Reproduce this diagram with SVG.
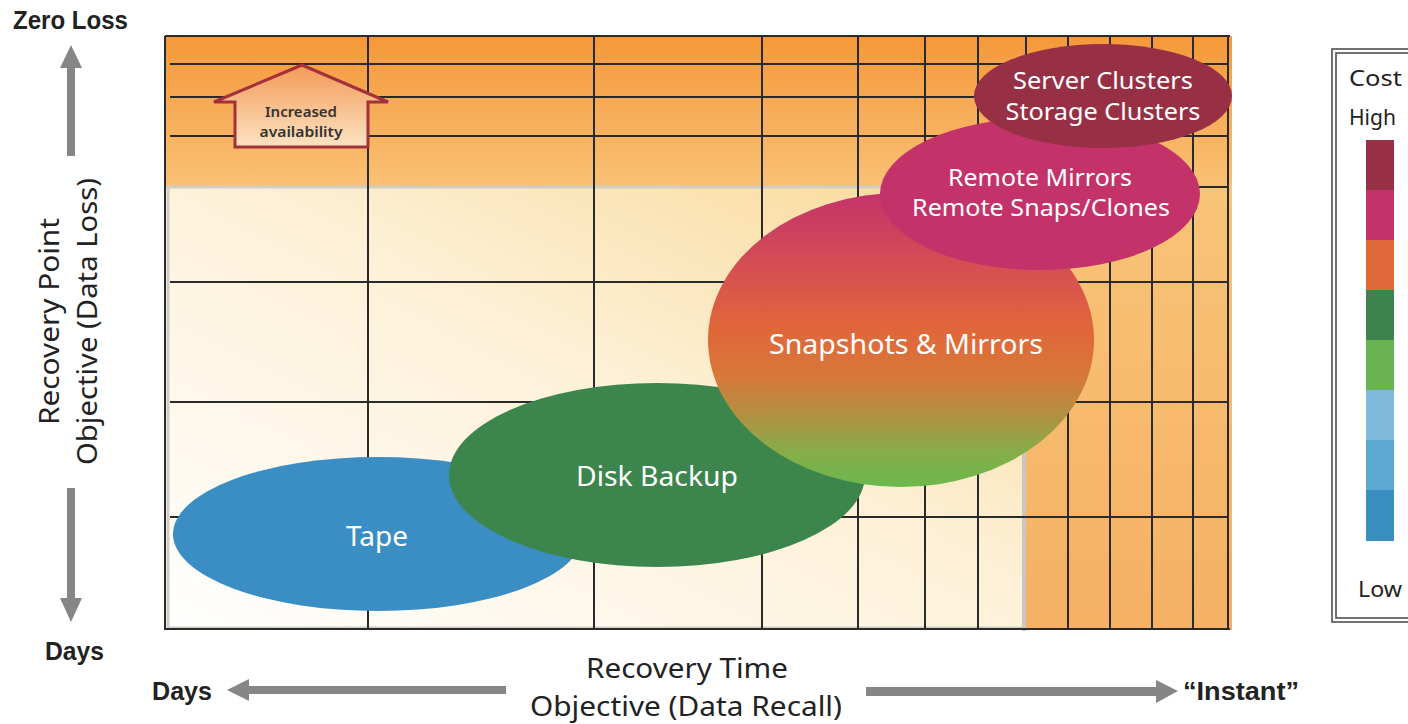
<svg xmlns="http://www.w3.org/2000/svg" width="1408" height="724" viewBox="0 0 1408 724">
<defs>
<linearGradient id="gTop" x1="0" y1="0" x2="0" y2="1">
<stop offset="0" stop-color="#F5983A"/>
<stop offset="1" stop-color="#F9C175"/>
</linearGradient>
<linearGradient id="gRight" x1="0" y1="0" x2="0" y2="1">
<stop offset="0" stop-color="#F8C478"/>
<stop offset="1" stop-color="#F5B064"/>
</linearGradient>
<linearGradient id="gCream" x1="0" y1="1" x2="1" y2="0">
<stop offset="0" stop-color="#FFFFFF"/>
<stop offset="0.55" stop-color="#FDF0D6"/>
<stop offset="1" stop-color="#F9D894"/>
</linearGradient>
<linearGradient id="gSnap" x1="0" y1="0" x2="0" y2="1">
<stop offset="0" stop-color="#C3346A"/>
<stop offset="0.3" stop-color="#D8544E"/>
<stop offset="0.45" stop-color="#E0653A"/>
<stop offset="0.62" stop-color="#D9773A"/>
<stop offset="0.75" stop-color="#B38F42"/>
<stop offset="0.88" stop-color="#86AD48"/>
<stop offset="1" stop-color="#6CB84E"/>
</linearGradient>
<linearGradient id="gHouse" x1="0" y1="0" x2="0" y2="1">
<stop offset="0" stop-color="#F39A55"/>
<stop offset="1" stop-color="#FCE3C3"/>
</linearGradient>
<style>
.grid{stroke:#2a2a2a;stroke-width:2;fill:none}
.ax{fill:#868686}
.lbl{font-family:"Noto Sans","Open Sans",sans-serif;fill:#ffffff;text-anchor:middle}
.axt{font-family:"Noto Sans","Open Sans",sans-serif;fill:#222222;text-anchor:middle}
.bold{font-family:"Liberation Sans",Arial,sans-serif;font-weight:bold;fill:#222222}
.leg{font-family:"Noto Sans","Open Sans",sans-serif;fill:#222222;font-size:22px}
.small{font-family:"Noto Sans","Open Sans",sans-serif;font-size:14px;font-weight:600;fill:#333333;text-anchor:middle}
</style>
</defs>
<rect width="1408" height="724" fill="#ffffff"/>

<g id="chart-background">
<rect x="165" y="36" width="1067" height="152" fill="url(#gTop)"/>
<rect x="1024" y="186" width="208" height="444" fill="url(#gRight)"/>
<rect x="168" y="187" width="856" height="441" fill="url(#gCream)" stroke="#D0CEC4" stroke-width="3"/>
<line x1="1024" y1="186" x2="1024" y2="631" stroke="#C9C8C0" stroke-width="4"/>
</g>

<g id="grid">
<path class="grid" d="M170 64H1228M170 97H1228M170 136H1228M1026 187H1228M170 282H1228M170 402H1228M170 517H1228"/>
<path class="grid" d="M368 36V629M594 36V629M762 36V629M858 36V629M925 36V629M978 36V629M1068 36V629M1110 36V629M1152 36V629M1193 36V629M1228 36V629M1026 36V186"/>
<path class="grid" d="M165 36H1230M165 36V630M165 629H1230"/>
</g>

<g id="node-tape">
<ellipse cx="378" cy="534" rx="205" ry="77" fill="#3A8EC3"/>
<text class="lbl" x="377" y="546" font-size="27" textLength="62" lengthAdjust="spacingAndGlyphs">Tape</text>
</g>
<g id="node-disk-backup">
<ellipse cx="657" cy="475" rx="208" ry="92" fill="#3C854C"/>
<text class="lbl" x="657" y="486" font-size="27" textLength="162" lengthAdjust="spacingAndGlyphs">Disk Backup</text>
</g>
<g id="node-snapshots">
<ellipse cx="901" cy="340" rx="193" ry="147" fill="url(#gSnap)"/>
<text class="lbl" x="906" y="354" font-size="27" textLength="274" lengthAdjust="spacingAndGlyphs">Snapshots &amp; Mirrors</text>
</g>
<g id="node-remote-mirrors">
<ellipse cx="1040" cy="194" rx="160" ry="76" fill="#C3336A"/>
<text class="lbl" x="1040" y="186" font-size="23" textLength="184" lengthAdjust="spacingAndGlyphs">Remote Mirrors</text>
<text class="lbl" x="1041" y="216" font-size="23" textLength="258" lengthAdjust="spacingAndGlyphs">Remote Snaps/Clones</text>
</g>
<g id="node-clusters">
<ellipse cx="1103" cy="96" rx="129" ry="52" fill="#972F45"/>
<text class="lbl" x="1103" y="89" font-size="23" textLength="180" lengthAdjust="spacingAndGlyphs">Server Clusters</text>
<text class="lbl" x="1103" y="120" font-size="23" textLength="195" lengthAdjust="spacingAndGlyphs">Storage Clusters</text>
</g>

<g id="node-increased-availability">
<polygon points="302,65 388,102 368,102 368,147 235,147 235,102 214,102" fill="url(#gHouse)" stroke="#A3303A" stroke-width="3" stroke-linejoin="miter"/>
<text class="small" x="301" y="117" textLength="72" lengthAdjust="spacingAndGlyphs">Increased</text>
<text class="small" x="301" y="137" textLength="83" lengthAdjust="spacingAndGlyphs">availability</text>
</g>

<g id="axis-y">
<text class="bold" x="13" y="29" font-size="25" textLength="115" lengthAdjust="spacingAndGlyphs">Zero Loss</text>
<polygon class="ax" points="71,45 82,68 75,68 75,156 67,156 67,68 60,68"/>
<polygon class="ax" points="67,488 75,488 75,598 82,598 71,622 60,598 67,598"/>
<text class="bold" x="45" y="660" font-size="25" textLength="59" lengthAdjust="spacingAndGlyphs">Days</text>
<text class="axt" transform="translate(59,321.5) rotate(-90)" font-size="28" textLength="207" lengthAdjust="spacingAndGlyphs">Recovery Point</text>
<text class="axt" transform="translate(97,321.5) rotate(-90)" font-size="28" textLength="287" lengthAdjust="spacingAndGlyphs">Objective (Data Loss)</text>
</g>

<g id="axis-x">
<text class="bold" x="152" y="700" font-size="25" textLength="60" lengthAdjust="spacingAndGlyphs">Days</text>
<polygon class="ax" points="227,690 249,679 249,686 506,686 506,694 249,694 249,701"/>
<polygon class="ax" points="866,687 1156,687 1156,680 1178,691 1156,703 1156,696 866,696"/>
<text class="bold" x="1183" y="700" font-size="25" textLength="116" lengthAdjust="spacingAndGlyphs">“Instant”</text>
<text class="axt" x="687" y="678" font-size="28" textLength="202" lengthAdjust="spacingAndGlyphs">Recovery Time</text>
<text class="axt" x="686" y="716" font-size="28" textLength="312" lengthAdjust="spacingAndGlyphs">Objective (Data Recall)</text>
</g>

<g id="legend">
<rect x="1332" y="49" width="90" height="573" fill="#ffffff" stroke="#444444" stroke-width="1.5"/>
<rect x="1336" y="53" width="82" height="565" fill="none" stroke="#444444" stroke-width="1.5"/>
<text class="leg" x="1349" y="86" textLength="53" lengthAdjust="spacingAndGlyphs">Cost</text>
<text class="leg" x="1349" y="125" font-size="21" textLength="47" lengthAdjust="spacingAndGlyphs">High</text>
<rect x="1366" y="140" width="28" height="51" fill="#972F45"/>
<rect x="1366" y="190" width="28" height="51" fill="#C3336A"/>
<rect x="1366" y="240" width="28" height="51" fill="#E0693A"/>
<rect x="1366" y="290" width="28" height="51" fill="#3D834E"/>
<rect x="1366" y="340" width="28" height="51" fill="#6AB352"/>
<rect x="1366" y="390" width="28" height="51" fill="#7FBADC"/>
<rect x="1366" y="440" width="28" height="51" fill="#5BA8D3"/>
<rect x="1366" y="490" width="28" height="51" fill="#3A8DC1"/>
<text class="leg" x="1358" y="597" font-size="21" textLength="44" lengthAdjust="spacingAndGlyphs">Low</text>
</g>
</svg>
